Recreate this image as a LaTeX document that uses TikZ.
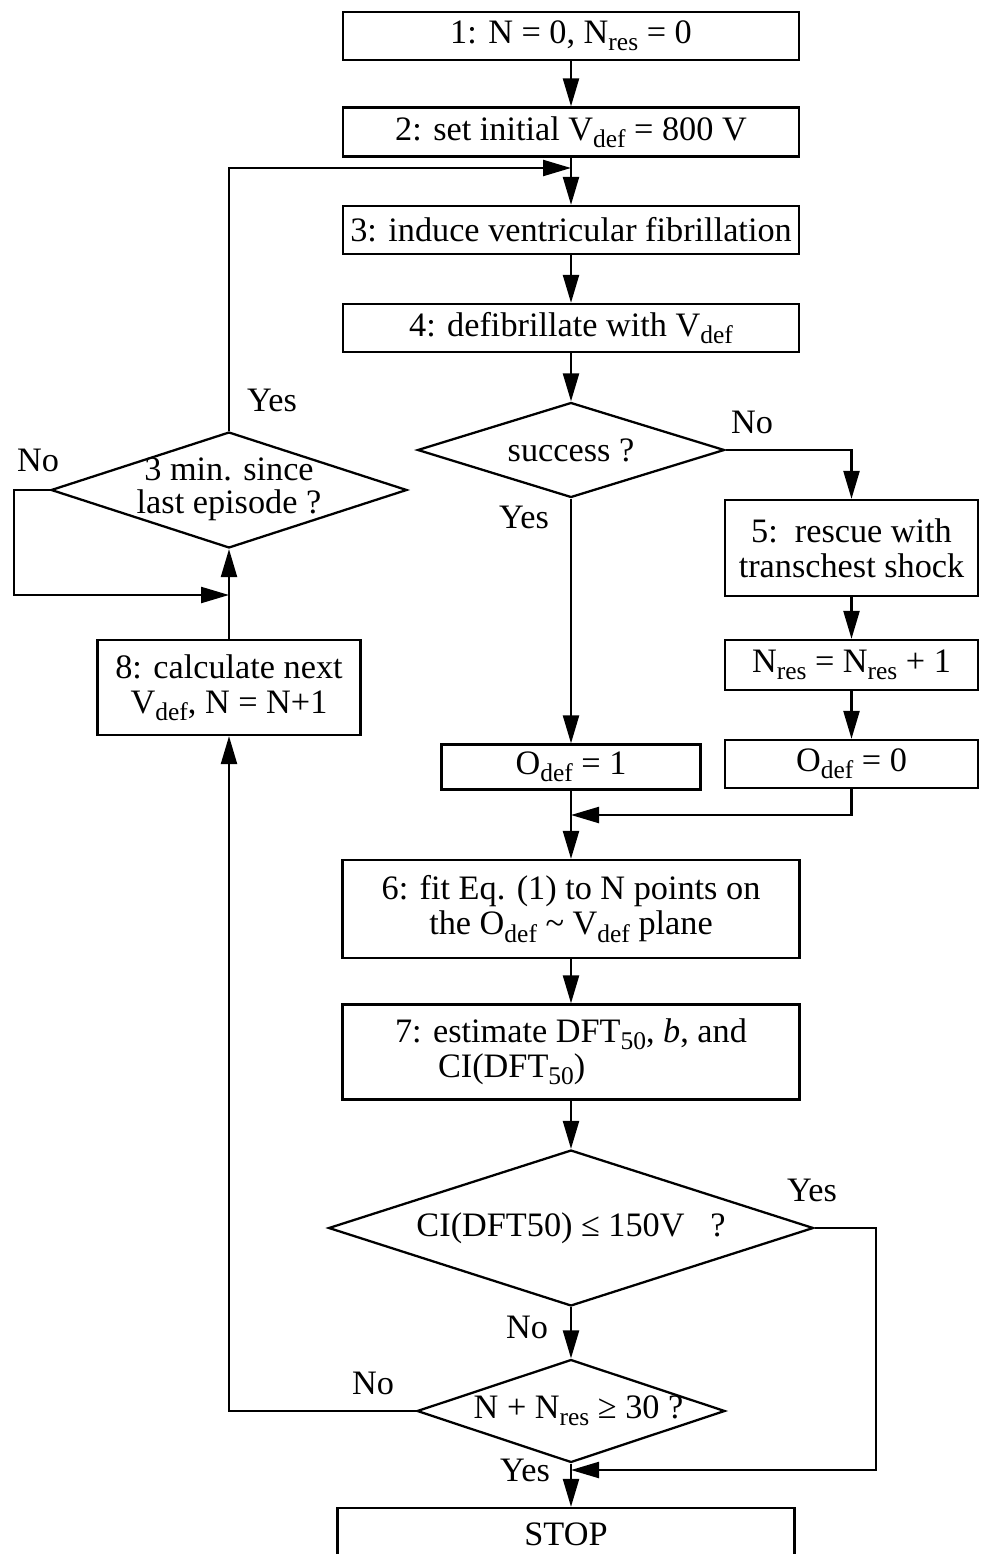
\documentclass[tikz,border=0pt]{standalone}
\usepackage{fontspec}
\setmainfont{Liberation Serif}
\usetikzlibrary{arrows.meta,shapes.geometric}
\newcommand\lo[1]{\raisebox{-0.45ex}{\fontsize{14.5pt}{14.5pt}\selectfont #1}}

\begin{document}
\begin{tikzpicture}[x=0.02cm, y=-0.02cm, every node/.style={font=\fontsize{19.5pt}{20pt}\selectfont}, >={Triangle[length=5.6mm,width=3.2mm]}, line width=1.3pt,
	blk/.style={draw, rectangle, inner sep=0pt, align=center},
	dec/.style={draw, diamond, inner sep=0pt}]
	\useasboundingbox (0,0) rectangle (980,1554);
	\node[blk, minimum width=9.12cm, minimum height=0.96cm] (init) at (571,36) {1: N = 0, N\lo{res} = 0};
	\node[blk, minimum width=9.12cm, minimum height=0.98cm] (setv) at (571,132) {2: set initial V\lo{def} = 800 V};
	\node[blk, minimum width=9.12cm, minimum height=0.96cm] (induce) at (571,230) {3: induce ventricular fibrillation};
	\node[blk, minimum width=9.12cm, minimum height=0.96cm] (defib) at (571,328) {4: defibrillate with V\lo{def}};
	\node[dec, minimum width=6.14cm, minimum height=1.9cm] (succ) at (571,450) {\makebox[0pt]{success ?}};
	\node[blk, minimum width=5.06cm, minimum height=1.92cm] (rescue) at (851.5,548) {5:\ \ rescue with\\transchest shock};
	\node[blk, minimum width=5.06cm, minimum height=1.0cm] (nres) at (851.5,665) {N\lo{res} = N\lo{res} + 1};
	\node[blk, minimum width=5.06cm, minimum height=0.96cm] (odef0) at (851.5,764) {O\lo{def} = 0};
	\node[blk, minimum width=5.18cm, minimum height=0.9cm] (odef1) at (571,767) {O\lo{def} = 1};
	\node[blk, minimum width=9.14cm, minimum height=1.96cm] (fit) at (571,909) {6: fit Eq. (1) to N points on\\the O\lo{def} \textasciitilde{} V\lo{def} plane};
	\node[blk, minimum width=9.14cm, minimum height=1.9cm, align=left] (est) at (571,1052) {7: estimate DFT\lo{50}, \textit{b}, and\\\hspace*{0.86cm}CI(DFT\lo{50})};
	\node[dec, minimum width=9.7cm, minimum height=3.12cm] (ci) at (571,1228) {\makebox[0pt]{CI(DFT50) ≤ 150V\ \ \ ?}};
	\node[dec, minimum width=6.16cm, minimum height=2.06cm] (count) at (571,1411) {\makebox[0pt]{\hspace*{0.3cm}N + N\lo{res} ≥ 30 ?}};
	\node[blk, minimum width=9.14cm, minimum height=1.04cm] (stop) at (566,1534) {STOP};
	\node[blk, minimum width=5.26cm, minimum height=1.9cm] (next) at (229,687.5) {8: calculate next\\V\lo{def}, N = N+1};
	\node[dec, minimum width=7.12cm, minimum height=2.32cm] (wait) at (229,490) {\makebox[0pt]{\raisebox{-2pt}{\begin{tabular}{@{}c@{}}3 min. since\\[-1pt]last episode ?\end{tabular}}}};
	\coordinate (j1) at (571,815);
	\coordinate (j2) at (571,1470);
	\coordinate (j3) at (229,595);
	\coordinate (j4) at (571,168);
	\coordinate (c1) at (876,1228);
	\coordinate (c2) at (14,490);
	\draw[->] (init) -- (setv);
	\draw[->] (setv) -- (induce);
	\draw[->] (induce) -- (defib);
	\draw[->] (defib) -- (succ);
	\draw[->] (succ.east) -| (rescue.north);
	\draw[->] (succ.south) -- (odef1.north);
	\draw[->] (rescue) -- (nres);
	\draw[->] (nres) -- (odef0);
	\draw[->] (odef1) -- (fit);
	\draw[->] (odef0.south) |- (j1);
	\draw[->] (fit) -- (est);
	\draw[->] (est) -- (ci);
	\draw[->] (ci.east) -- (c1) |- (j2);
	\draw[->] (ci.south) -- (count.north);
	\draw[->] (count.south) -- (count.south |- stop.north);
	\draw[->] (count.west) -| (next.south);
	\draw[->] (next) -- (wait);
	\draw[->] (wait.west) -- (c2) |- (j3);
	\draw[->] (wait.north) |- (j4);
	\node (nosucc) at (752,422) {No};
	\node (yessucc) at (524,517) {Yes};
	\node (yeswait) at (272,400) {Yes};
	\node (nowait) at (38,460) {No};
	\node (yesci) at (812,1190) {Yes};
	\node (noci) at (527,1327) {No};
	\node (nocount) at (373,1383) {No};
	\node (yescount) at (525,1470) {Yes};
\end{tikzpicture}
\end{document}
